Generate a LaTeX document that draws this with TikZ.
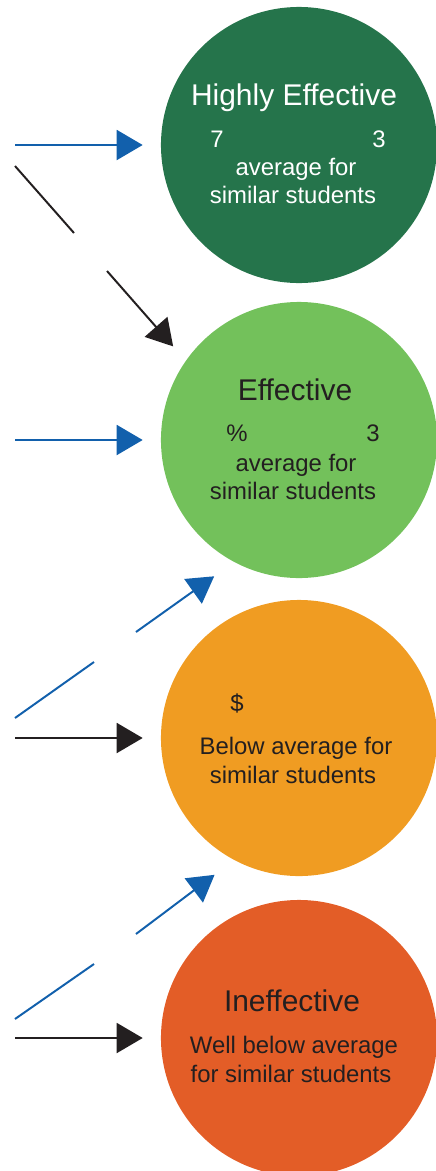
\documentclass[tikz,border=0pt]{standalone}
\usepackage{fontspec}
\setmainfont{Liberation Sans}
\usetikzlibrary{arrows.meta}
\definecolor{hegreen}{HTML}{25744B}
\definecolor{efgreen}{HTML}{73C15B}
\definecolor{baorange}{HTML}{F09C22}
\definecolor{iered}{HTML}{E35D27}
\definecolor{arrblue}{HTML}{1260AC}
\definecolor{ink}{HTML}{231F20}

\begin{document}
\begin{tikzpicture}[x=0.025cm, y=-0.025cm, >={Triangle[length=0.65cm, width=0.75cm]},
  disc/.style={circle, minimum size=6.9cm, inner sep=0pt},
  ttl/.style={anchor=base, inner sep=0pt, font=\fontsize{21.3}{25}\selectfont},
  txt/.style={anchor=base, inner sep=0pt, font=\fontsize{17}{20}\selectfont},
  blu/.style={line width=1.4pt, arrblue},
  blk/.style={line width=1.4pt, ink}]
\useasboundingbox (0,0) rectangle (435,1171);
\node[disc, fill=hegreen] (he) at (299,145) {};
\node[disc, fill=efgreen] (ef) at (299,440) {};
\node[disc, fill=baorange] (ba) at (299,738) {};
\node[disc, fill=iered] (ie) at (299,1038) {};
\node[ttl, white] (he-t) at (294,105) {Highly Effective};
\node[txt, white] (he-l) at (217,147) {7};\node[txt, white] (he-r) at (379,147) {3};
\node[txt, white] (he-a) at (296,175) {average for};\node[txt, white] (he-b) at (293,203) {similar students};
\node[ttl, ink] (ef-t) at (295,400) {Effective};
\node[txt, ink] (ef-l) at (237,441) {\%};\node[txt, ink] (ef-r) at (373,441) {3};
\node[txt, ink] (ef-a) at (296,471) {average for};\node[txt, ink] (ef-b) at (293,499) {similar students};
\node[txt, ink] (ba-l) at (237,711) {\$};
\node[txt, ink] (ba-a) at (296,754) {Below average for};\node[txt, ink] (ba-b) at (293,783) {similar students};
\node[ttl, ink] (ie-t) at (292,1011) {Ineffective};
\node[txt, ink] (ie-a) at (294,1053) {Well below average};\node[txt, ink] (ie-b) at (291,1082) {for similar students};
\coordinate (s1) at (15,145);\coordinate (s2) at (15,440);\coordinate (s3) at (15,738);\coordinate (s4) at (15,1038);
\coordinate (k1) at (15,166);\coordinate (k2) at (74,233);\coordinate (k3) at (107,271);
\coordinate (m1) at (15,718);\coordinate (m2) at (94,662);\coordinate (m3) at (136,632);
\coordinate (n1) at (15,1019);\coordinate (n2) at (94,964);\coordinate (n3) at (136,934);
\draw[blu, ->, shorten >=0.45cm] (s1) -- (he.west);
\draw[blu, ->, shorten >=0.45cm] (s2) -- (ef.west);
\draw[blk, ->, shorten >=0.45cm] (s3) -- (ba.west);
\draw[blk, ->, shorten >=0.45cm] (s4) -- (ie.west);
\draw[blk] (k1) -- (k2);\draw[blk, ->, shorten >=0.475cm] (k3) -- (ef.145);
\draw[blu] (m1) -- (m2);\draw[blu, ->, shorten >=0.61cm] (m3) -- (ef.242);
\draw[blu] (n1) -- (n2);\draw[blu, ->, shorten >=0.61cm] (n3) -- (ba.242);
\end{tikzpicture}
\end{document}
